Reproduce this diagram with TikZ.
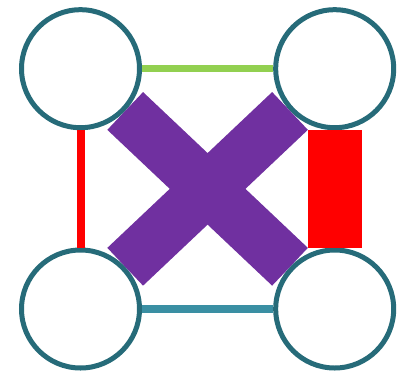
\documentclass[tikz,border=0pt]{standalone}
\usetikzlibrary{backgrounds}
\definecolor{ringcol}{HTML}{266B79}
\definecolor{greencol}{HTML}{92D050}
\definecolor{tealcol}{HTML}{3A8FA3}
\definecolor{purplecol}{HTML}{7030A0}
\begin{document}
\begin{tikzpicture}[x=1pt,y=-1pt,
  ring/.style={circle,draw=ringcol,fill=white,line width=5pt,minimum size=118pt,inner sep=0pt},
  link/.style={line cap=butt}]
\useasboundingbox (0,0) rectangle (402,373);
\node[ring] (tl) at (80.5,68.7) {};
\node[ring] (tr) at (334.7,68.7) {};
\node[ring] (bl) at (80.5,309) {};
\node[ring] (br) at (334.7,309) {};
\draw[link,purplecol,line width=52pt] (tl) -- (br);
\draw[link,purplecol,line width=52pt] (tr) -- (bl);
\draw[link,greencol,line width=7.5pt] (tl) -- (tr);
\draw[link,tealcol,line width=8pt] (bl) -- (br);
\draw[link,red,line width=8pt] (tl) -- (bl);
\draw[link,red,line width=54pt] (tr) -- (br);
\end{tikzpicture}
\end{document}
